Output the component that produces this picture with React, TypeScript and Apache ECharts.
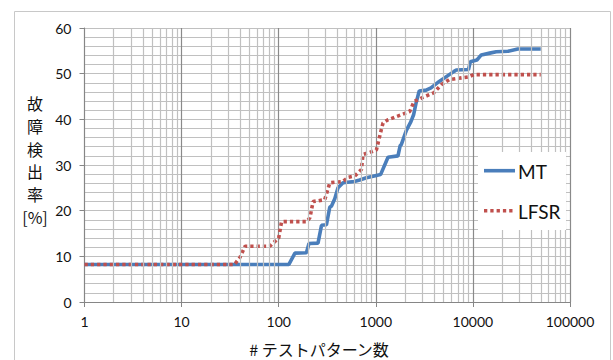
import React, { useEffect, useRef } from "react";
import * as echarts from "echarts";

const xTickLabels = ["1", "10", "100", "1000", "10000", "100000"];
const seriesNames = ["MT", "LFSR"];

const mtX = [1, 127, 147, 193, 205, 254, 276, 310, 336, 350, 378, 408, 460, 600, 683, 800, 1015, 1120, 1336, 1692, 1780, 1834, 2064, 2300, 2450, 2600, 2800, 3300, 3700, 4500, 6400, 6745, 9000, 9400, 11000, 12200, 14900, 17400, 23000, 29000, 50000];
const mtY = [8.2, 8.2, 10.7, 10.8, 12.8, 12.9, 16.8, 16.9, 20.8, 21.0, 22.6, 25.0, 26.1, 26.4, 26.7, 27.2, 27.7, 27.9, 31.7, 32.0, 34.2, 34.5, 37.6, 39.5, 41.0, 43.6, 46.2, 46.4, 46.9, 48.3, 50.5, 50.8, 50.9, 52.6, 53.0, 54.1, 54.5, 54.8, 54.9, 55.4, 55.4];

const lfsrX = [1, 35, 40, 45, 81, 95, 100, 107, 195, 210, 226, 298, 336, 460, 520, 607, 711, 738, 850, 1015, 1138, 1187, 1336, 1630, 2233, 2478, 2980, 3944, 4742, 5700, 9040, 10200, 50000];
const lfsrY = [8.2, 8.2, 9.8, 12.2, 12.2, 13.6, 14.0, 17.6, 17.6, 18.5, 22.0, 22.4, 26.1, 26.4, 27.3, 27.6, 29.0, 32.3, 32.7, 33.3, 37.7, 39.2, 39.9, 40.6, 41.7, 43.9, 44.7, 45.8, 47.6, 48.7, 49.3, 49.8, 49.8];

const decades = [1, 10, 100, 1000, 10000];
const minorSteps = [2, 3, 4, 5, 6, 7, 8, 9];

const yAxisTitle = "故\n障\n検\n出\n率\n[%]";
const xAxisTitle = "# テストパターン数";

const BLUE = "#4a7ebb";
const RED = "#c0504d";
const LFSR_DASH = [3.3, 3];

export default function App() {
  const ref = useRef<HTMLDivElement>(null);
  useEffect(() => {
    if (!ref.current) return;
    const chart = echarts.init(ref.current, null, { renderer: "svg" });
    const minorLines: any[] = [];
    decades.forEach((d) => minorSteps.forEach((k) => minorLines.push({ xAxis: d * k })));
    const latin = "Lato, 'Noto Sans', sans-serif";
    const cjk = "'Noto Sans CJK JP', sans-serif";
    chart.setOption({
      animation: false,
      backgroundColor: "#fff",
      grid: { left: 84.5, right: 43, top: 28, bottom: 58 },
      xAxis: {
        type: "log",
        logBase: 10,
        min: 1,
        max: 100000,
        axisLine: { show: true, lineStyle: { color: "#868686", width: 1 } },
        axisTick: { show: true, length: 5, lineStyle: { color: "#868686" } },
        axisLabel: {
          margin: 12,
          fontSize: 14,
          color: "#111",
          fontFamily: latin,
          formatter: (v: number) => {
            const i = Math.round(Math.log10(v));
            return xTickLabels[i] ?? String(v);
          },
        },
        splitLine: { show: true, lineStyle: { color: "#8a8a8a", width: 1.2 } },
        minorTick: { show: false },
        minorSplitLine: { show: false },
      },
      yAxis: {
        type: "value",
        min: 0,
        max: 60,
        interval: 10,
        axisLine: { show: true, lineStyle: { color: "#868686", width: 1 } },
        axisTick: { show: true, length: 5, lineStyle: { color: "#868686" } },
        axisLabel: { margin: 13, fontSize: 14, color: "#111", fontFamily: latin },
        splitLine: { show: true, lineStyle: { color: "#c0c0c0", width: 1.2 } },
        minorTick: { show: false, splitNumber: 5 },
        minorSplitLine: { show: true, lineStyle: { color: "#c0c0c0", width: 1.2 } },
      },
      series: [
        {
          name: "gridMinor",
          type: "line",
          data: [],
          silent: true,
          z: 1,
          markLine: {
            silent: true,
            symbol: ["none", "none"],
            label: { show: false },
            lineStyle: { color: "#c0c0c0", width: 1.2, type: "solid" },
            emphasis: { disabled: true },
            data: minorLines,
          },
        },
        {
          name: seriesNames[0],
          type: "line",
          z: 3,
          showSymbol: false,
          symbol: "none",
          color: BLUE,
          lineStyle: { color: BLUE, width: 3.6 },
          data: mtX.map((x, i) => [x, mtY[i]]),
        },
        {
          name: seriesNames[1],
          type: "line",
          z: 4,
          showSymbol: false,
          symbol: "none",
          color: RED,
          lineStyle: { color: RED, width: 3.6, type: LFSR_DASH, cap: "butt" },
          data: lfsrX.map((x, i) => [x, lfsrY[i]]),
        },
      ],
      graphic: [
        {
          type: "rect",
          shape: { x: 14.5, y: 11.5, width: 596, height: 360 },
          style: { fill: "none", stroke: "#c8c8c8", lineWidth: 1 },
          silent: true,
          z: 0,
        },
        {
          type: "rect",
          shape: { x: 478, y: 152, width: 88, height: 78 },
          style: { fill: "#fff" },
          silent: true,
          z: 100,
        },
        {
          type: "line",
          shape: { x1: 484, y1: 170.7, x2: 515, y2: 170.7 },
          style: { stroke: BLUE, lineWidth: 3.6 },
          z: 101,
        },
        {
          type: "text",
          x: 518,
          y: 171,
          style: {
            text: seriesNames[0],
            textVerticalAlign: "middle",
            fontSize: 19,
            fontFamily: latin,
            fill: "#111",
          },
          z: 101,
        },
        {
          type: "line",
          shape: { x1: 484, y1: 210.7, x2: 515, y2: 210.7 },
          style: { stroke: RED, lineWidth: 3.6, lineDash: LFSR_DASH },
          z: 101,
        },
        {
          type: "text",
          x: 518,
          y: 211,
          style: {
            text: seriesNames[1],
            textVerticalAlign: "middle",
            fontSize: 19,
            fontFamily: latin,
            fill: "#111",
          },
          z: 101,
        },
        {
          type: "text",
          x: 35,
          y: 92,
          style: {
            text: yAxisTitle,
            textAlign: "center",
            textVerticalAlign: "top",
            fontSize: 16,
            lineHeight: 22.7,
            fontFamily: cjk,
            fill: "#111",
          },
        },
        {
          type: "text",
          x: 319,
          y: 349,
          style: {
            text: xAxisTitle,
            textAlign: "center",
            textVerticalAlign: "middle",
            fontSize: 16,
            fontFamily: cjk,
            fill: "#111",
          },
        },
      ],
    });
    return () => chart.dispose();
  }, []);
  return (
    <div
      ref={ref}
      style={{ position: "fixed", left: 0, top: 0, width: 613, height: 360 }}
    />
  );
}
